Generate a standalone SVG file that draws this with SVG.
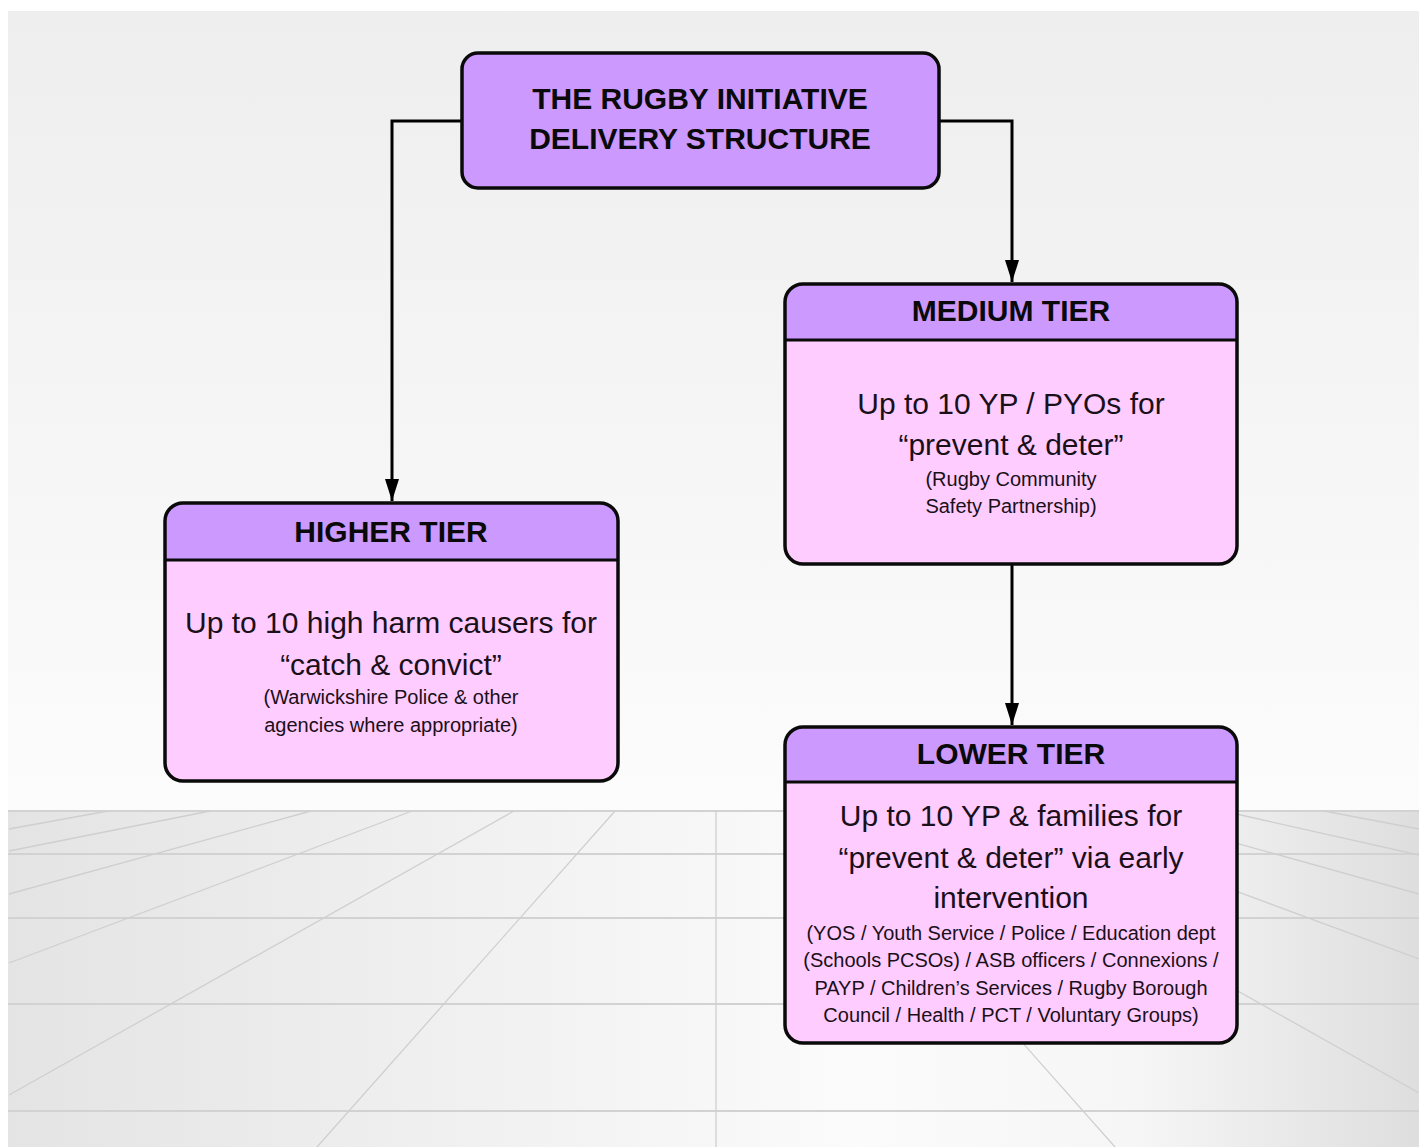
<svg xmlns="http://www.w3.org/2000/svg" width="1419" height="1147" viewBox="0 0 1419 1147">
<defs>
<linearGradient id="wall" x1="0" y1="0" x2="0" y2="1">
<stop offset="0" stop-color="#eeeeee"/>
<stop offset="1" stop-color="#fcfcfc"/>
</linearGradient>
<linearGradient id="floor" x1="0" y1="0" x2="1" y2="0">
<stop offset="0" stop-color="#e4e4e4"/>
<stop offset="0.6" stop-color="#fbfbfb"/>
<stop offset="0.8" stop-color="#f6f6f6"/>
<stop offset="1" stop-color="#dedede"/>
</linearGradient>
<marker id="arrow" markerWidth="14" markerHeight="22" refX="7" refY="21" orient="auto" markerUnits="userSpaceOnUse" viewBox="0 0 14 22">
<path d="M0,0 L14,0 L7,22 Z" fill="#000" transform="rotate(0)"/>
</marker>
<marker id="ah" viewBox="0 0 22 14" refX="22" refY="7" markerWidth="22" markerHeight="14" markerUnits="userSpaceOnUse" orient="auto">
<path d="M0,0 L22,7 L0,14 Z" fill="#000"/>
</marker>
</defs>
<style>
.box{stroke:#0a0a0a;stroke-width:3.5}
.head{fill:#cc99ff}
.body{fill:#ffccff}
.t{font-family:"Liberation Sans",Arial,sans-serif;fill:#1a101a;text-anchor:middle}
.hb{font-size:30px;font-weight:bold;fill:#0a0a0a}
.big{font-size:30px}
.sm{font-size:20px}
.conn{fill:none;stroke:#000;stroke-width:3}
.grid{stroke:#cfcfcf;stroke-width:1.3;fill:none}
.gh{stroke:#d2d2d2;stroke-width:2;fill:none}
</style>
<rect x="0" y="0" width="1419" height="1147" fill="#ffffff"/>
<rect x="8" y="11" width="1411" height="800" fill="url(#wall)"/>
<rect x="8" y="811" width="1411" height="336" fill="url(#floor)"/>
<g id="floor-grid">
<line class="gh" x1="8" y1="811" x2="1419" y2="811"/>
<line class="gh" x1="8" y1="854" x2="1419" y2="854"/>
<line class="gh" x1="8" y1="918" x2="1419" y2="918"/>
<line class="gh" x1="8" y1="1004" x2="1419" y2="1004"/>
<line class="gh" x1="8" y1="1111" x2="1419" y2="1111"/>
<line class="grid" x1="716" y1="811" x2="716" y2="1147"/>
<line class="grid" x1="615" y1="811" x2="317" y2="1147"/>
<line class="grid" x1="514" y1="811" x2="9" y2="1095"/>
<line class="grid" x1="412" y1="811" x2="9" y2="963"/>
<line class="grid" x1="311" y1="811" x2="9" y2="894"/>
<line class="grid" x1="210" y1="811" x2="9" y2="851"/>
<line class="grid" x1="108" y1="811" x2="9" y2="829"/>
<line class="grid" x1="817" y1="811" x2="1115" y2="1147"/>
<line class="grid" x1="918" y1="811" x2="1419" y2="1093"/>
<line class="grid" x1="1020" y1="811" x2="1419" y2="959"/>
<line class="grid" x1="1121" y1="811" x2="1419" y2="894"/>
<line class="grid" x1="1223" y1="811" x2="1419" y2="855"/>
<line class="grid" x1="1324" y1="811" x2="1419" y2="829"/>
</g>
<g id="connectors">
<path class="conn" d="M462,121 H392 V501" marker-end="url(#ah)"/>
<path class="conn" d="M940,121 H1012 V282" marker-end="url(#ah)"/>
<path class="conn" d="M1012,564 V725" marker-end="url(#ah)"/>
</g>
<g id="node-top">
<rect class="box head" x="462" y="53" width="477" height="135" rx="16"/>
<text class="t hb" x="700" y="109">THE RUGBY INITIATIVE</text>
<text class="t hb" x="700" y="149">DELIVERY STRUCTURE</text>
</g>
<g id="node-higher">
<rect class="body" x="165" y="503" width="453" height="278" rx="18"/>
<path class="head" d="M183,503 H600 Q618,503 618,521 V560 H165 V521 Q165,503 183,503 Z"/>
<rect x="165" y="503" width="453" height="278" rx="18" fill="none" class="box"/>
<line x1="165" y1="560" x2="618" y2="560" stroke="#0a0a0a" stroke-width="3"/>
<text class="t hb" x="391" y="542">HIGHER TIER</text>
<text class="t big" x="391" y="633">Up to 10 high harm causers for</text>
<text class="t big" x="391" y="675">“catch &amp; convict”</text>
<text class="t sm" x="391" y="704">(Warwickshire Police &amp; other</text>
<text class="t sm" x="391" y="732">agencies where appropriate)</text>
</g>
<g id="node-medium">
<rect class="body" x="785" y="284" width="452" height="280" rx="18"/>
<path class="head" d="M803,284 H1219 Q1237,284 1237,302 V340 H785 V302 Q785,284 803,284 Z"/>
<rect x="785" y="284" width="452" height="280" rx="18" fill="none" class="box"/>
<line x1="785" y1="340" x2="1237" y2="340" stroke="#0a0a0a" stroke-width="3"/>
<text class="t hb" x="1011" y="321">MEDIUM TIER</text>
<text class="t big" x="1011" y="414">Up to 10 YP / PYOs for</text>
<text class="t big" x="1011" y="455">“prevent &amp; deter”</text>
<text class="t sm" x="1011" y="486">(Rugby Community</text>
<text class="t sm" x="1011" y="513">Safety Partnership)</text>
</g>
<g id="node-lower">
<rect class="body" x="785" y="727" width="452" height="316" rx="18"/>
<path class="head" d="M803,727 H1219 Q1237,727 1237,745 V782 H785 V745 Q785,727 803,727 Z"/>
<rect x="785" y="727" width="452" height="316" rx="18" fill="none" class="box"/>
<line x1="785" y1="782" x2="1237" y2="782" stroke="#0a0a0a" stroke-width="3"/>
<text class="t hb" x="1011" y="764">LOWER TIER</text>
<text class="t big" x="1011" y="826">Up to 10 YP &amp; families for</text>
<text class="t big" x="1011" y="868">“prevent &amp; deter” via early</text>
<text class="t big" x="1011" y="908">intervention</text>
<text class="t sm" x="1011" y="940">(YOS / Youth Service / Police / Education dept</text>
<text class="t sm" x="1011" y="967">(Schools PCSOs) / ASB officers / Connexions /</text>
<text class="t sm" x="1011" y="995">PAYP / Children’s Services / Rugby Borough</text>
<text class="t sm" x="1011" y="1022">Council / Health / PCT / Voluntary Groups)</text>
</g>
</svg>
